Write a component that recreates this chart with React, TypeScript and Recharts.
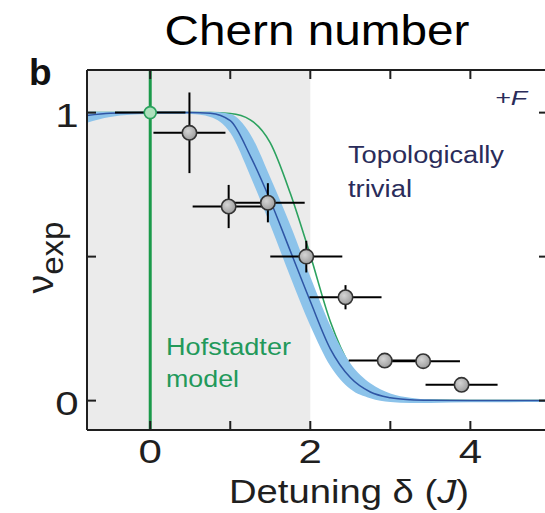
import React from 'react';
import {
  ComposedChart, XAxis, YAxis, Line, Area, Scatter, ErrorBar, ReferenceArea, ReferenceLine,
} from 'recharts';

// ---------- data ----------
const X_MIN = -0.79;
const X_MAX = 4.97;
const Y_MIN = -0.102;
const Y_MAX = 1.148;

const theoryDelta = [-0.79, -0.5, 0, 0.5, 0.75, 1.0, 1.25, 1.5, 1.75, 2.0, 2.25, 2.5, 2.75, 3.0, 3.25, 3.5, 4.0, 4.97];
const blueCurve = [0.99, 0.998, 1, 1, 0.998, 0.972, 0.85, 0.695, 0.52, 0.345, 0.18, 0.08, 0.03, 0.01, 0.003, 0.001, 0, 0];
const bandLow = [0.965, 0.985, 0.995, 0.995, 0.985, 0.93, 0.78, 0.61, 0.43, 0.26, 0.12, 0.04, 0.008, -0.005, -0.008, -0.008, -0.006, -0.005];
const bandHigh = [1.003, 1.003, 1.003, 1.003, 1.003, 0.995, 0.925, 0.775, 0.61, 0.43, 0.26, 0.13, 0.06, 0.025, 0.01, 0.004, 0.002, 0.002];
const hofstadterCurve = [1, 1, 1, 1, 1, 0.997, 0.975, 0.895, 0.72, 0.505, 0.275, 0.12, 0.05, 0.015, 0.004, 0.001, 0, 0];

const pointDelta = [0.49, 0.98, 1.47, 1.95, 2.44, 2.93, 3.41, 3.89];
const pointNu = [0.93, 0.674, 0.687, 0.5, 0.359, 0.139, 0.137, 0.055];
const pointDeltaErr = [0.45, 0.45, 0.46, 0.45, 0.45, 0.45, 0.46, 0.45];
const pointNuErr = [0.14, 0.075, 0.068, 0.055, 0.042, 0, 0, 0];

const hofDelta = [0];
const hofNu = [1];
const hofDeltaErr = [0.44];

const xTicks = [0, 1, 2, 3, 4];
const xLabeled = [0, 2, 4];
const yTicks = [0, 0.5, 1];
const yLabeled = [0, 1];

const theoryRows = theoryDelta.map((d, i) => ({
  d,
  blue: blueCurve[i],
  band: [bandLow[i], bandHigh[i]],
  green: hofstadterCurve[i],
}));
const pointRows = pointDelta.map((d, i) => ({ d, v: pointNu[i], ex: pointDeltaErr[i], ey: pointNuErr[i] }));
const hofRows = hofDelta.map((d, i) => ({ d, v: hofNu[i], ex: hofDeltaErr[i] }));

// ---------- layout / style ----------
const INK = '#1f1f1f';
const FONT = '"Liberation Sans", Arial, Helvetica, sans-serif';
const DIGIT_LEN = 23.4;
const PLOT_LEFT = 87;
const PLOT_RIGHT = 548;
const PLOT_TOP = 70;
const PLOT_BOTTOM = 430;
const CHART_W = 570;
const CHART_H = 513;
const BOTTOM_H = 40;
const TOP_H = 10;
const LEFT_W = 30;
const RIGHT_W = 8;
const TICK_LEN = 9;
const TICK_LINE = { stroke: INK, strokeWidth: 2 };
const AXIS_LINE = { stroke: INK, strokeWidth: 2 };

const BottomLabel = (p: any) => {
  const v = p.payload.value;
  if (!xLabeled.includes(v)) return <g />;
  return (
    <text x={p.x} y={p.y + 32.5} textAnchor="middle" fontSize={34} fontFamily={FONT} fill={INK}
      textLength={DIGIT_LEN} lengthAdjust="spacingAndGlyphs">{v}</text>
  );
};

const LeftLabel = (p: any) => {
  const v = p.payload.value;
  if (!yLabeled.includes(v)) return <g />;
  return (
    <text x={p.x - 20} y={p.y + 14.5} textAnchor="middle" fontSize={34} fontFamily={FONT} fill={INK}
      textLength={DIGIT_LEN} lengthAdjust="spacingAndGlyphs">{v}</text>
  );
};

const GrayDot = (p: any) => {
  if (p.cx == null || p.cy == null) return <g />;
  const id = `ptg-${p.index ?? 0}`;
  return (
    <g>
      <defs>
        <radialGradient id={id} cx="40%" cy="38%" r="65%">
          <stop offset="0%" stopColor="#d4d4d4" />
          <stop offset="100%" stopColor="#9c9c9c" />
        </radialGradient>
      </defs>
      <circle cx={p.cx} cy={p.cy} r={7.2} fill={`url(#${id})`} stroke="#333" strokeWidth={1.6} />
    </g>
  );
};

const GreenDot = (p: any) => {
  if (p.cx == null || p.cy == null) return <g />;
  return <circle cx={p.cx} cy={p.cy} r={6} fill="#aee0bd" stroke="#2ca25f" strokeWidth={1.6} />;
};

export default function App() {
  return (
    <div style={{ position: 'absolute', left: 0, top: 0, width: 545, height: 513, overflow: 'hidden', background: '#fff' }}>
      <ComposedChart
        width={CHART_W}
        height={CHART_H}
        data={theoryRows}
        margin={{
          top: PLOT_TOP - TOP_H,
          right: CHART_W - PLOT_RIGHT - RIGHT_W,
          bottom: CHART_H - PLOT_BOTTOM - BOTTOM_H,
          left: PLOT_LEFT - LEFT_W,
        }}
      >
        <ReferenceArea x1={X_MIN} x2={2} fill="#ebebeb" fillOpacity={1} stroke="none" ifOverflow="extendDomain" />

        <XAxis
          type="number" dataKey="d" domain={[X_MIN, X_MAX]} allowDataOverflow ticks={xTicks} interval={0}
          height={BOTTOM_H} tickSize={-TICK_LEN} tickMargin={TICK_LEN} tickLine={TICK_LINE}
          axisLine={AXIS_LINE} tick={(p: any) => <BottomLabel {...p} />}
        />
        <XAxis
          xAxisId="top" orientation="top" type="number" dataKey="d" domain={[X_MIN, X_MAX]} allowDataOverflow
          ticks={xTicks} interval={0} height={TOP_H} tickSize={-TICK_LEN} tickMargin={0} tickLine={TICK_LINE}
          tick={() => <g />} axisLine={AXIS_LINE}
        />
        <YAxis
          type="number" domain={[Y_MIN, Y_MAX]} allowDataOverflow ticks={yTicks} interval={0}
          width={LEFT_W} tickSize={-TICK_LEN} tickMargin={TICK_LEN} tickLine={TICK_LINE}
          axisLine={AXIS_LINE} tick={(p: any) => <LeftLabel {...p} />}
        />
        <YAxis
          yAxisId="right" orientation="right" type="number" domain={[Y_MIN, Y_MAX]} allowDataOverflow
          ticks={yTicks} interval={0} width={RIGHT_W} tickSize={-TICK_LEN} tickMargin={0} tickLine={TICK_LINE}
          tick={() => <g />} axisLine={AXIS_LINE}
        />

        <Area xAxisId="top" type="monotone" dataKey="green" stroke="#2ca25f" strokeWidth={1.6} fill="none" fillOpacity={0}
          isAnimationActive={false} dot={false} activeDot={false} />
        <Area yAxisId="right" type="monotone" dataKey="band" stroke="none" fill="#8cc3ea" fillOpacity={1}
          isAnimationActive={false} dot={false} activeDot={false} />
        <Line type="monotone" dataKey="blue" stroke="#2f55a4" strokeWidth={1.5} dot={false} activeDot={false}
          isAnimationActive={false} />

        <ReferenceLine x={0} stroke="#1a9a4a" strokeWidth={3} />

        <Scatter data={hofRows} dataKey="v" isAnimationActive={false} shape={(p: any) => <GreenDot {...p} />}>
          <ErrorBar dataKey="ex" direction="x" width={0} stroke="#000" strokeWidth={2} />
        </Scatter>
        <Scatter data={pointRows} dataKey="v" isAnimationActive={false} shape={(p: any) => <GrayDot {...p} />}>
          <ErrorBar dataKey="ex" direction="x" width={0} stroke="#000" strokeWidth={2} />
          <ErrorBar dataKey="ey" direction="y" width={0} stroke="#000" strokeWidth={2} />
        </Scatter>
      </ComposedChart>

      <svg width={545} height={513} style={{ position: 'absolute', left: 0, top: 0, pointerEvents: 'none' }}>
        <text x={164.5} y={44.6} fontSize={42} fontFamily={FONT} fill="#000" textLength={305} lengthAdjust="spacingAndGlyphs">
          Chern number
        </text>
        <text x={29} y={85} fontSize={37} fontWeight="bold" fontFamily={FONT} fill="#111">b</text>
        <text x={495} y={105} fontSize={21} fontStyle="italic" fontFamily={FONT} fill="#2a2c5a"
          textLength={32} lengthAdjust="spacingAndGlyphs">+F</text>
        <text x={348} y={163.3} fontSize={23} fontFamily={FONT} fill="#2a2c5a" textLength={156} lengthAdjust="spacingAndGlyphs">
          Topologically
        </text>
        <text x={348} y={196.7} fontSize={23} fontFamily={FONT} fill="#2a2c5a" textLength={64} lengthAdjust="spacingAndGlyphs">
          trivial
        </text>
        <text x={166} y={355} fontSize={24.5} fontFamily={FONT} fill="#22995a" textLength={125} lengthAdjust="spacingAndGlyphs">
          Hofstadter
        </text>
        <text x={166} y={386.7} fontSize={24.5} fontFamily={FONT} fill="#22995a" textLength={73} lengthAdjust="spacingAndGlyphs">
          model
        </text>
        <text x={229} y={503.3} fontSize={34} fontFamily={FONT} fill={INK} textLength={240} lengthAdjust="spacingAndGlyphs">
          Detuning δ (<tspan fontStyle="italic">J</tspan>)
        </text>
        <text transform="translate(53,257.5) rotate(-90)" x={0} y={0} textAnchor="middle" fontSize={36}
          fontFamily={FONT} fill={INK} textLength={72} lengthAdjust="spacingAndGlyphs">
          ν<tspan fontSize={32} dy={10}>exp</tspan>
        </text>
      </svg>
    </div>
  );
}
